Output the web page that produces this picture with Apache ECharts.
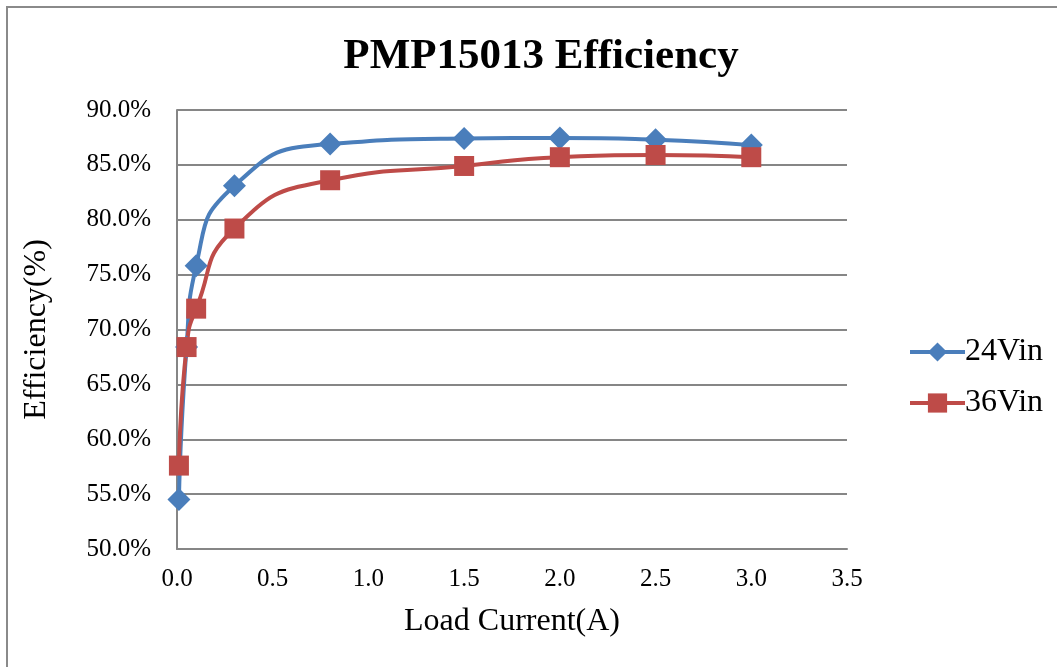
<!DOCTYPE html>
<html>
<head>
<meta charset="utf-8">
<script src="https://cdn.jsdelivr.net/npm/echarts@6/dist/echarts.min.js"></script>
<style>html,body{margin:0;padding:0;background:#fff;}#c{width:1057px;height:667px;}</style>
</head>
<body>
<div id="c"></div>
<script>
var titleText = 'PMP15013 Efficiency';
var xAxisName = 'Load Current(A)';
var yAxisName = 'Efficiency(%)';
var seriesNames = ['24Vin', '36Vin'];
var load24 = [0.01, 0.05, 0.1, 0.3, 0.8, 1.5, 2.0, 2.5, 3.0];
var eff24  = [54.5, 68.4, 75.8, 83.1, 86.9, 87.4, 87.45, 87.3, 86.8];
var load36 = [0.01, 0.05, 0.1, 0.3, 0.8, 1.5, 2.0, 2.5, 3.0];
var eff36  = [57.6, 68.4, 71.9, 79.2, 83.6, 84.9, 85.7, 85.9, 85.7];

function pairs(xs, ys){ return xs.map(function(x,i){ return [x, ys[i]]; }); }
var font = '"Liberation Serif","Times New Roman",serif';
var chart = echarts.init(document.getElementById('c'));
chart.setOption({
  animation: false,
  backgroundColor: '#fff',
  title: { text: titleText, left: 536, top: 30, textAlign: 'center',
    textStyle: { fontFamily: font, fontSize: 43, fontWeight: 'bold', color: '#000' } },
  graphic: [{ type: 'rect', shape: { x: 7, y: 7, width: 1070, height: 680 },
    style: { fill: 'none', stroke: '#8a8a8a', lineWidth: 2 }, silent: true }],
  legend: {
    orient: 'vertical', left: 903, top: 331, itemWidth: 55, itemHeight: 24, itemGap: 19,
    lineStyle: { width: 4 },
    textStyle: { fontFamily: font, fontSize: 32, color: '#000', padding: [0,0,0,-5] },
    data: seriesNames
  },
  grid: { left: 177, right: 210, top: 110, bottom: 118, containLabel: false },
  xAxis: {
    type: 'value', min: 0, max: 3.5, interval: 0.5,
    name: xAxisName, nameLocation: 'middle', nameGap: 57,
    nameTextStyle: { fontFamily: font, fontSize: 32, color: '#000' },
    axisLine: { show: true, lineStyle: { color: '#868686', width: 2 } },
    axisTick: { show: false }, splitLine: { show: false },
    axisLabel: { fontFamily: font, fontSize: 25, color: '#000', margin: 18,
      formatter: function(v){ return v.toFixed(1); } }
  },
  yAxis: {
    type: 'value', min: 50, max: 90, interval: 5,
    name: yAxisName, nameLocation: 'middle', nameGap: 124, nameRotate: 90,
    nameTextStyle: { fontFamily: font, fontSize: 32, color: '#000' },
    axisLine: { show: true, lineStyle: { color: '#868686', width: 2 } },
    axisTick: { show: false },
    splitLine: { show: true, lineStyle: { color: '#868686', width: 2 } },
    axisLabel: { fontFamily: font, fontSize: 25, color: '#000', margin: 26,
      formatter: function(v){ return v.toFixed(1) + '%'; } }
  },
  series: [
    { name: seriesNames[0], type: 'line', data: pairs(load24, eff24),
      smooth: 0.55, symbol: 'diamond', symbolSize: 23,
      lineStyle: { color: '#4A7EBB', width: 4 }, itemStyle: { color: '#4A7EBB' } },
    { name: seriesNames[1], type: 'line', data: pairs(load36, eff36),
      smooth: 0.55, symbol: 'rect', symbolSize: 20,
      lineStyle: { color: '#BE4B48', width: 4 }, itemStyle: { color: '#BE4B48' } }
  ]
});
</script>
</body>
</html>
